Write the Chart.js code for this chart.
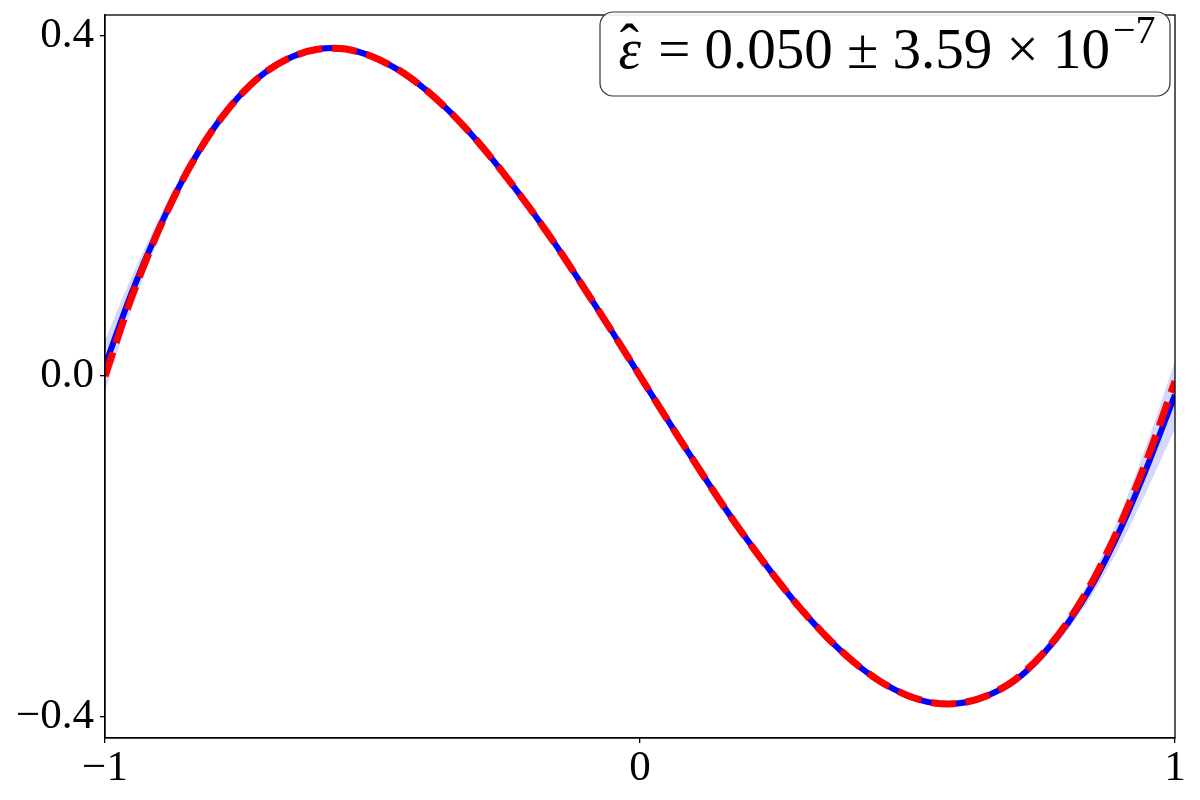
<!DOCTYPE html>
<html>
<head>
<meta charset="utf-8">
<script src="https://cdn.jsdelivr.net/npm/chart.js@4/dist/chart.umd.min.js"></script>
<style>
  html, body { margin: 0; padding: 0; background: #fff; }
  #wrap { width: 1200px; height: 800px; }
</style>
</head>
<body>
<div id="wrap"><canvas id="fitChart" width="1200" height="800"></canvas></div>
<script>
// sample positions along x
const xs = [-1, -0.95, -0.9, -0.85, -0.8, -0.75, -0.7, -0.65, -0.6, -0.55, -0.5,
            -0.45, -0.4, -0.35, -0.3, -0.25, -0.2, -0.15, -0.1, -0.05, 0,
            0.05, 0.1, 0.15, 0.2, 0.25, 0.3, 0.35, 0.4, 0.45, 0.5,
            0.55, 0.6, 0.65, 0.7, 0.75, 0.8, 0.85, 0.9, 0.95, 1];

// blue solid curve (mean)
const meanVals = [0.012, 0.098, 0.172, 0.236, 0.288, 0.328, 0.357, 0.375, 0.384, 0.384, 0.375,
                  0.359, 0.336, 0.307, 0.273, 0.234, 0.192, 0.147, 0.099, 0.050, 0,
                  -0.050, -0.099, -0.147, -0.192, -0.234, -0.273, -0.307, -0.336, -0.359, -0.375,
                  -0.384, -0.384, -0.375, -0.358, -0.329, -0.290, -0.240, -0.177, -0.103, -0.022];

// red dashed curve
const refVals = [0, 0.093, 0.171, 0.236, 0.288, 0.328, 0.357, 0.375, 0.384, 0.384, 0.375,
                 0.359, 0.336, 0.307, 0.273, 0.234, 0.192, 0.147, 0.099, 0.050, 0,
                 -0.050, -0.099, -0.147, -0.192, -0.234, -0.273, -0.307, -0.336, -0.359, -0.375,
                 -0.384, -0.384, -0.375, -0.357, -0.328, -0.288, -0.236, -0.171, -0.094, -0.006];

// half width of the shaded band around the blue curve
const spread = [0.030, 0.019, 0.012, 0.008, 0.006, 0.005, 0.004, 0.004, 0.004, 0.004, 0.004,
                0.004, 0.004, 0.004, 0.004, 0.004, 0.004, 0.004, 0.004, 0.004, 0.004,
                0.004, 0.004, 0.004, 0.004, 0.004, 0.004, 0.004, 0.004, 0.004, 0.004,
                0.004, 0.004, 0.004, 0.005, 0.006, 0.008, 0.012, 0.019, 0.028, 0.040];

const xTicks = [-1, 0, 1];
const xTickLabels = ['\u22121', '0', '1'];
const yTicks = [-0.4, 0, 0.4];
const yTickLabels = ['\u22120.4', '0.0', '0.4'];

const serif = "'Liberation Serif', 'DejaVu Serif', serif";

const pts = vals => xs.map((x, i) => ({ x: x, y: vals[i] }));
const upper = meanVals.map((v, i) => v + spread[i]);
const lower = meanVals.map((v, i) => v - spread[i]);

// frame round the plot area plus the text box
const framePlugin = {
    id: 'frame',
    afterDraw(chart) {
        const ctx = chart.ctx;
        const a = chart.chartArea;
        ctx.save();
        ctx.strokeStyle = '#000';
        ctx.lineWidth = 1.3;
        ctx.strokeRect(a.left, a.top, a.right - a.left, a.bottom - a.top);

        // annotation box
        const bx = 600, by = 12, bw = 570, bh = 84;
        ctx.beginPath();
        ctx.roundRect(bx, by, bw, bh, 13);
        ctx.fillStyle = 'rgba(255,255,255,0.9)';
        ctx.fill();
        ctx.strokeStyle = '#333';
        ctx.lineWidth = 1.2;
        ctx.stroke();

        const big = '57px ' + serif;
        const bigIt = 'italic 57px ' + serif;
        const small = '40px ' + serif;
        const eps = '\u03b5';
        const main = ' = 0.050 \u00b1 3.59 \u00d7 10';
        const sup = '\u22127';
        ctx.font = bigIt; const wEps = ctx.measureText(eps).width;
        ctx.font = big; const wMain = ctx.measureText(main).width;
        ctx.font = small; const wSup = ctx.measureText(sup).width;
        const total = wEps + wMain + wSup + 6;
        let x = bx + (bw - total) / 2 + 2;
        const base = 68;
        ctx.fillStyle = '#000';
        ctx.textBaseline = 'alphabetic';
        ctx.textAlign = 'left';
        ctx.font = bigIt;
        ctx.fillText(eps, x, base);
        ctx.font = big;
        ctx.fillText('\u02c6', x + wEps / 2 - 10, base - 5);
        x += wEps + 3;
        ctx.fillText(main, x, base);
        x += wMain + 3;
        ctx.font = small;
        ctx.fillText(sup, x, base - 25);
        ctx.restore();
    }
};

const ctx = document.getElementById('fitChart').getContext('2d');
new Chart(ctx, {
    type: 'line',
    data: {
        datasets: [
            {
                label: 'band low',
                data: pts(lower),
                borderWidth: 0,
                pointRadius: 0,
                fill: false,
                tension: 0.3,
                order: 3
            },
            {
                label: 'band high',
                data: pts(upper),
                borderWidth: 0,
                pointRadius: 0,
                backgroundColor: 'rgba(60,80,230,0.22)',
                fill: '-1',
                tension: 0.3,
                order: 2
            },
            {
                label: 'mean',
                data: pts(meanVals),
                borderColor: '#0000ff',
                borderWidth: 6,
                pointRadius: 0,
                fill: false,
                tension: 0.3,
                order: 1
            },
            {
                label: 'reference',
                data: pts(refVals),
                borderColor: '#ff0000',
                borderWidth: 7,
                borderDash: [25, 10],
                borderCapStyle: 'butt',
                pointRadius: 0,
                fill: false,
                tension: 0.3,
                order: 0
            }
        ]
    },
    options: {
        responsive: false,
        animation: false,
        layout: { padding: { top: 15, right: 25, left: 0, bottom: 0 } },
        plugins: {
            legend: { display: false },
            tooltip: { enabled: false }
        },
        scales: {
            x: {
                type: 'linear',
                min: -1,
                max: 1,
                afterBuildTicks: s => { s.ticks = xTicks.map(v => ({ value: v })); },
                afterFit: s => { s.height = 62; s.paddingLeft = 0; s.paddingRight = 0; },
                grid: { display: true, drawOnChartArea: false, drawTicks: true, tickLength: 5, color: '#000', lineWidth: 1.3 },
                border: { display: true, color: '#000', width: 1.3 },
                ticks: {
                    font: { family: serif, size: 43 },
                    color: '#000',
                    padding: 0,
                    maxRotation: 0,
                    autoSkip: false,
                    callback: v => xTickLabels[xTicks.indexOf(v)]
                }
            },
            y: {
                type: 'linear',
                min: -0.425,
                max: 0.424,
                afterBuildTicks: s => { s.ticks = yTicks.map(v => ({ value: v })); },
                afterFit: s => { s.width = 105; s.paddingTop = 0; s.paddingBottom = 0; },
                grid: { display: true, drawOnChartArea: false, drawTicks: true, tickLength: 5, color: '#000', lineWidth: 1.3 },
                border: { display: true, color: '#000', width: 1.3 },
                ticks: {
                    font: { family: serif, size: 43 },
                    color: '#000',
                    padding: 6,
                    autoSkip: false,
                    callback: v => yTickLabels[yTicks.indexOf(v)]
                }
            }
        }
    },
    plugins: [framePlugin]
});
</script>
</body>
</html>
